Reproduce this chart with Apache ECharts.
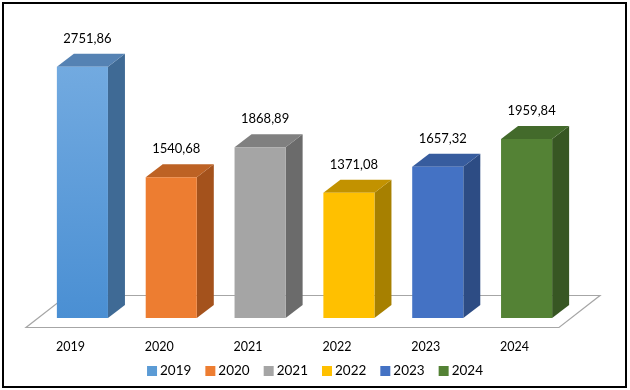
<!DOCTYPE html>
<html>
<head>
<meta charset="utf-8">
<script src="https://cdn.jsdelivr.net/npm/echarts@6/dist/echarts.min.js"></script>
<style>
html,body{margin:0;padding:0;background:#fff;}
#chart{width:630px;height:390px;}
</style>
</head>
<body>
<div id="chart"></div>
<script>
const categories = ['2019', '2020', '2021', '2022', '2023', '2024'];
const values = [2751.86, 1540.68, 1868.89, 1371.08, 1657.32, 1959.84];
const frontColors = ['#5b9bd5', '#ed7d31', '#a5a5a5', '#ffc000', '#4472c4', '#548235'];
const topColors = ['#5582b3', '#bd6224', '#808080', '#c29200', '#375c9e', '#436a2b'];
const sideColors = ['#3f6a95', '#a4521c', '#6b6b6b', '#a78000', '#2d4c84', '#375623'];

const DX = 17, DY = -13;
const FONT = 'Lato, "Noto Sans", sans-serif';

function fmt(v) { return v.toFixed(2).replace('.', ','); }

function barRender(i) {
  return function (params, api) {
    const cat = api.value(0), val = api.value(1);
    const base = api.coord([cat, 0]);
    const top = api.coord([cat, val]);
    const band = api.size([1, 0])[0];
    const w = band * 0.575;
    const x0 = base[0] - w / 2, x1 = x0 + w;
    let front = frontColors[i];
    if (i === 0) {
      front = new echarts.graphic.LinearGradient(0, 0, 0, 1, [
        { offset: 0, color: '#72aae0' },
        { offset: 1, color: '#4a8fd3' }
      ]);
    }
    return {
      type: 'group',
      children: [
        { type: 'polygon', shape: { points: [[x1, top[1]], [x1 + DX, top[1] + DY], [x1 + DX, base[1] + DY], [x1, base[1]]] },
          style: { fill: sideColors[i] } },
        { type: 'polygon', shape: { points: [[x0, top[1]], [x0 + DX, top[1] + DY], [x1 + DX, top[1] + DY], [x1, top[1]]] },
          style: { fill: topColors[i] } },
        { type: 'rect', shape: { x: x0, y: top[1], width: w, height: base[1] - top[1] },
          style: { fill: front } },
        { type: 'text', x: (x0 + x1) / 2 + 5, y: top[1] - 28,
          style: { text: fmt(val), fill: '#000', font: '13px ' + FONT, align: 'center', verticalAlign: 'middle' } }
      ]
    };
  };
}

function floorRender(params, api) {
  const c0 = api.coord([0, 0]);
  const c5 = api.coord([categories.length - 1, 0]);
  const band = api.size([1, 0])[0];
  const L = c0[0] - band / 2, R = c5[0] + band / 2, y0 = c0[1];
  return {
    type: 'polygon',
    shape: { points: [[L - 12, y0 + 9.5], [R - 12, y0 + 9.5], [R + 29, y0 - 22.5], [L + 29, y0 - 22.5]] },
    style: { fill: '#fff', stroke: '#a6a6a6', lineWidth: 1.2 }
  };
}

const series = [{
  name: 'floor', type: 'custom', renderItem: floorRender, data: [[0, 0]], z: 1, silent: true
}];
categories.forEach((c, i) => {
  series.push({
    name: c, type: 'custom', renderItem: barRender(i),
    itemStyle: { color: frontColors[i] },
    data: [[i, values[i]]], z: 2
  });
});

const chart = echarts.init(document.getElementById('chart'), null, { renderer: 'canvas' });
chart.setOption({
  animation: false,
  backgroundColor: '#fff',
  grid: { left: 38, right: 59, top: 44, bottom: 72 },
  xAxis: {
    type: 'category', data: categories,
    axisLine: { show: false }, axisTick: { show: false },
    axisLabel: { margin: 22, padding: [0, 24, 0, 0], color: '#000', fontSize: 12.5, fontFamily: FONT }
  },
  yAxis: { type: 'value', min: 0, max: 3000, show: false },
  legend: {
    data: categories, left: 'center', top: 359,
    icon: 'rect', itemWidth: 10, itemHeight: 10, itemGap: 14,
    textStyle: { color: '#000', fontSize: 13.5, fontFamily: FONT, padding: [0, 0, 0, -2] }
  },
  graphic: [{
    type: 'rect', shape: { x: 3, y: 3, width: 623, height: 384 },
    style: { fill: 'none', stroke: '#000', lineWidth: 2 }, z: 100
  }],
  series: series
});
</script>
</body>
</html>
